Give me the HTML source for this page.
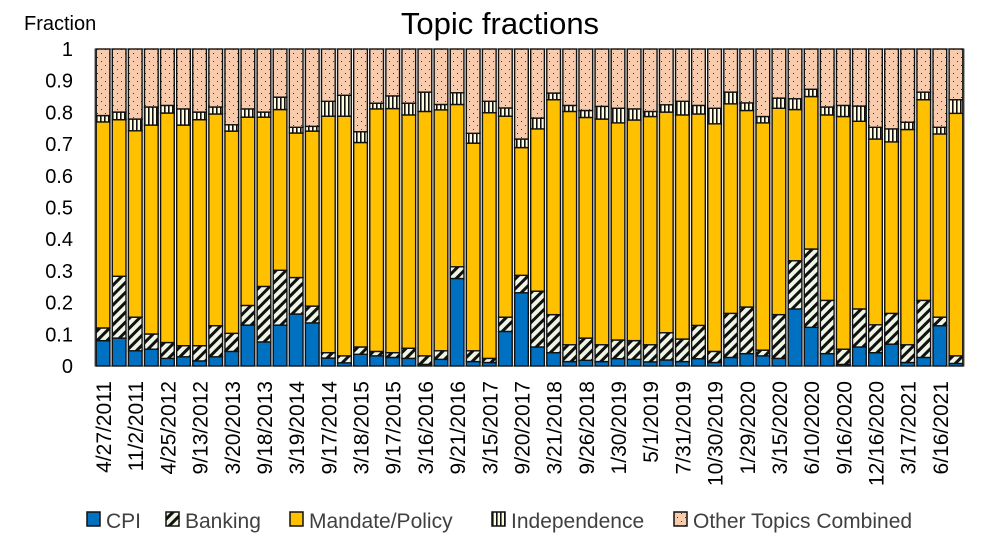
<!DOCTYPE html>
<html><head><meta charset="utf-8">
<style>
html,body{margin:0;padding:0;background:#fff;}
svg{display:block;font-family:"Liberation Sans",sans-serif;}
</style></head>
<body>
<svg id="chart" width="1000" height="548" viewBox="0 0 1000 548" xmlns="http://www.w3.org/2000/svg">
<defs>
<pattern id="pBank" patternUnits="userSpaceOnUse" width="7" height="7" patternTransform="rotate(45)">
<rect width="7" height="7" fill="#eef5e4"/><rect x="0" y="0" width="3" height="7" fill="#111"/>
</pattern>
<pattern id="pInd" patternUnits="userSpaceOnUse" width="4" height="4">
<rect width="4" height="4" fill="#fdfbe0"/><rect x="0" y="0" width="1.6" height="4" fill="#111"/>
</pattern>
<pattern id="pOther" patternUnits="userSpaceOnUse" width="8" height="8">
<rect width="8" height="8" fill="#f8cbad"/><rect x="1" y="1" width="1" height="1" fill="#333"/><rect x="5" y="5" width="1" height="1" fill="#333"/>
</pattern>
</defs>
<text x="500" y="34" font-size="31" text-anchor="middle" fill="#000">Topic fractions</text>
<text x="24" y="30" font-size="20" fill="#000">Fraction</text>
<g id="yaxis"></g>
<g id="bars"></g>
<g id="xaxis"></g>
<g id="legend"></g>
</svg>
<script>
const xLabels=["4/27/2011","11/2/2011","4/25/2012","9/13/2012","3/20/2013","9/18/2013","3/19/2014","9/17/2014","3/18/2015","9/17/2015","3/16/2016","9/21/2016","3/15/2017","9/20/2017","3/21/2018","9/26/2018","1/30/2019","5/1/2019","7/31/2019","10/30/2019","1/29/2020","3/15/2020","6/10/2020","9/16/2020","12/16/2020","3/17/2021","6/16/2021"];
const yTicks=[0,0.1,0.2,0.3,0.4,0.5,0.6,0.7,0.8,0.9,1];
const cpi=[.08,.088,.048,.053,.024,.029,.016,.029,.046,.129,.076,.129,.164,.136,.025,.01,.037,.032,.027,.024,.005,.021,.276,.014,.011,.109,.231,.06,.042,.014,.018,.014,.023,.021,.013,.019,.014,.023,.011,.027,.039,.032,.024,.18,.122,.039,.005,.06,.042,.069,.011,.027,.127,.008];
const banking=[.04,.195,.106,.048,.05,.035,.048,.098,.057,.062,.175,.173,.115,.053,.017,.022,.023,.014,.015,.032,.027,.027,.037,.034,.013,.045,.055,.176,.12,.053,.07,.053,.059,.059,.054,.086,.071,.105,.035,.139,.147,.018,.138,.152,.247,.168,.048,.12,.088,.097,.056,.18,.027,.024];
const mandate=[.65,.494,.588,.659,.724,.696,.713,.668,.638,.594,.534,.507,.456,.552,.746,.756,.645,.765,.77,.736,.771,.76,.512,.655,.775,.634,.403,.512,.678,.736,.696,.712,.685,.696,.72,.696,.707,.667,.718,.661,.62,.717,.651,.477,.481,.585,.734,.592,.586,.541,.679,.633,.578,.765];
const independence=[.02,.024,.037,.057,.024,.051,.024,.022,.02,.026,.016,.039,.018,.015,.047,.066,.034,.018,.04,.037,.061,.017,.037,.031,.036,.026,.027,.034,.021,.019,.022,.04,.046,.035,.016,.023,.043,.027,.049,.037,.024,.02,.032,.034,.023,.025,.035,.048,.037,.041,.023,.024,.021,.043];
const seriesNames=["CPI","Banking","Mandate/Policy","Independence","Other Topics Combined"];
const fills=["#0070c0","url(#pBank)","#ffc000","url(#pInd)","url(#pOther)"];

const NS="http://www.w3.org/2000/svg";
const L=95,R=964,T=49,B=366;
const n=cpi.length,pitch=(R-L)/n;
const yS=v=>B-v*(B-T);
const xS=i=>L+i*pitch;
function mk(tag,attrs,parent){const e=document.createElementNS(NS,tag);for(const k in attrs)e.setAttribute(k,attrs[k]);parent.appendChild(e);return e;}

const ya=document.getElementById('yaxis');
yTicks.forEach(t=>{
  const tx=mk('text',{x:73,y:yS(t)+7,'font-size':20,'text-anchor':'end',fill:'#000'},ya);
  tx.textContent=String(t);
  
  
});

const bg=document.getElementById('bars');
mk('rect',{x:L,y:T,width:R-L,height:B-T,fill:'none',stroke:'#555','stroke-width':1},bg);
for(let i=0;i<n;i++){
  const vals=[cpi[i],banking[i],mandate[i],independence[i]];
  const s=vals.reduce((a,b)=>a+b,0);
  vals.push(Math.max(0,1-s));
  let cum=0;
  vals.forEach((v,k)=>{
    const y0=yS(cum),y1=yS(cum+v);cum+=v;
    const r=mk('rect',{x:xS(i)+1.2,y:y1,width:pitch-2.4,height:Math.max(0,y0-y1),fill:fills[k],stroke:'#111','stroke-width':1.4},bg);
    
    
  });
}

const xa=document.getElementById('xaxis');
xLabels.forEach((lab,j)=>{
  const cx=xS(j*2)+pitch/2+8;
  const tx=mk('text',{x:0,y:0,'font-size':21,'text-anchor':'end',fill:'#000',transform:`translate(${cx},381) rotate(-90)`},xa);
  tx.textContent=lab;
  
  
});

const lg=document.getElementById('legend');
const lx=[87,166,290,492,674];
seriesNames.forEach((nm,k)=>{
  const g=mk('g',{},lg);
  
  
  mk('rect',{x:lx[k],y:512,width:13,height:14,fill:fills[k],stroke:'#111','stroke-width':1.5},g);
  const t=mk('text',{x:lx[k]+19,y:528,'font-size':21,fill:'#404040'},g);
  t.textContent=nm;
});
</script>
</body></html>
